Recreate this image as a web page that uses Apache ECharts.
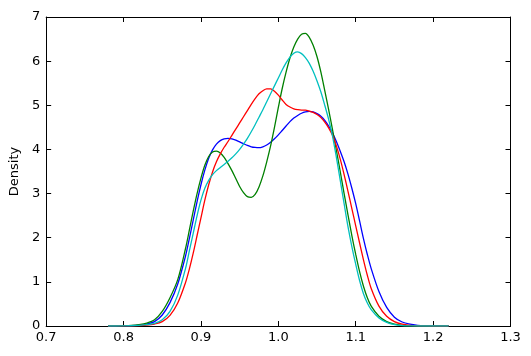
<!DOCTYPE html>
<html>
<head>
<meta charset="utf-8">
<script src="https://cdn.jsdelivr.net/npm/echarts@6/dist/echarts.min.js"></script>
<style>
html,body{margin:0;padding:0;background:#fff;}
#chart{width:531px;height:356px;}
</style>
</head>
<body>
<div id="chart"></div>
<script>
// x positions (evaluation grid of the density curves)
var xs = [0.78,0.79,0.80,0.81,0.82,0.83,0.84,0.85,0.86,0.87,
  0.88,0.885,0.89,0.895,0.90,0.905,0.91,0.915,0.92,0.925,0.93,0.935,0.94,0.945,0.95,0.955,0.96,0.965,0.97,0.975,
  0.98,0.985,0.99,0.995,1.00,1.005,1.01,1.015,1.02,1.025,1.03,1.035,1.04,1.045,1.05,1.055,1.06,1.065,1.07,1.075,
  1.08,1.085,1.09,1.095,1.10,1.105,1.11,1.115,1.12,
  1.13,1.14,1.15,1.16,1.17,1.18,1.19,1.20,1.21,1.22];

var blueDensity = [0,0,0.002,0.008,0.02,0.045,0.1,0.25,0.53,0.95,
  1.58,1.98,2.4,2.82,3.2,3.53,3.8,3.99,4.12,4.2,4.24,4.25,4.24,4.21,4.17,4.13,4.09,4.06,4.045,4.04,
  4.06,4.1,4.16,4.24,4.33,4.43,4.53,4.63,4.71,4.77,4.82,4.85,4.86,4.85,4.81,4.75,4.66,4.53,4.37,4.18,
  3.96,3.72,3.44,3.12,2.77,2.38,1.98,1.62,1.3,
  0.78,0.42,0.2,0.09,0.04,0.015,0.005,0.002,0,0];
var greenDensity = [0.002,0.004,0.006,0.012,0.03,0.065,0.14,0.33,0.64,1.05,
  1.75,2.17,2.6,3.0,3.35,3.64,3.84,3.94,3.96,3.92,3.82,3.68,3.52,3.34,3.16,3.02,2.93,2.915,2.98,3.15,
  3.4,3.72,4.08,4.5,4.95,5.38,5.75,6.07,6.32,6.5,6.61,6.63,6.54,6.36,6.1,5.75,5.33,4.9,4.45,3.98,
  3.5,3.0,2.52,2.05,1.62,1.23,0.9,0.64,0.45,
  0.22,0.1,0.04,0.015,0.005,0.002,0,0,0,0];
var redDensity = [0,0.001,0.002,0.005,0.01,0.02,0.045,0.1,0.24,0.52,
  0.98,1.29,1.65,2.05,2.45,2.85,3.2,3.49,3.72,3.9,4.05,4.18,4.32,4.46,4.6,4.74,4.88,5.02,5.15,5.26,
  5.33,5.37,5.37,5.32,5.23,5.12,5.02,4.96,4.92,4.9,4.89,4.89,4.87,4.84,4.79,4.72,4.62,4.49,4.32,4.08,
  3.78,3.43,3.05,2.66,2.27,1.88,1.5,1.15,0.85,
  0.45,0.22,0.1,0.04,0.015,0.005,0.002,0,0,0];
var cyanDensity = [0,0,0.002,0.006,0.015,0.03,0.06,0.14,0.33,0.7,
  1.3,1.7,2.1,2.5,2.85,3.12,3.3,3.43,3.52,3.59,3.66,3.73,3.81,3.9,4.0,4.12,4.25,4.4,4.56,4.73,
  4.9,5.08,5.26,5.44,5.62,5.8,5.96,6.09,6.18,6.21,6.17,6.08,5.95,5.77,5.55,5.3,5.0,4.68,4.3,3.82,
  3.3,2.77,2.25,1.8,1.4,1.03,0.73,0.52,0.37,
  0.18,0.08,0.03,0.01,0.003,0,0,0,0,0];

var xTicks = [0.7,0.8,0.9,1.0,1.1,1.2,1.3];
var yTicks = [0,1,2,3,4,5,6,7];
var yLabel = 'Density';

function pairs(vals){ return xs.map(function(x,i){ return [x, vals[i]]; }); }

var font = 'DejaVu Sans';
var fs = 13;
var axisCommon = {
  axisLine:{show:true, onZero:false, lineStyle:{color:'#000', width:1}},
  axisTick:{show:true, inside:true, length:5, lineStyle:{color:'#000', width:1}},
  splitLine:{show:false}
};
function mk(base, extra){ var o={}; for(var k in base)o[k]=base[k]; for(var k2 in extra)o[k2]=extra[k2]; return o; }

var chart = echarts.init(document.getElementById('chart'), null, {renderer:'canvas'});
chart.setOption({
  animation:false,
  backgroundColor:'#fff',
  grid:{left:44.5, right:20.5, top:17, bottom:30, containLabel:false},
  xAxis:[
    mk(axisCommon,{type:'value', position:'bottom', min:xTicks[0], max:xTicks[xTicks.length-1], interval:0.1,
      axisLabel:{show:true, color:'#000', fontFamily:font, fontSize:fs, margin:5,
        formatter:function(v){ return v.toFixed(1); }}}),
    mk(axisCommon,{type:'value', position:'top', min:xTicks[0], max:xTicks[xTicks.length-1], interval:0.1,
      axisLabel:{show:false}})
  ],
  yAxis:[
    mk(axisCommon,{type:'value', position:'left', min:yTicks[0], max:yTicks[yTicks.length-1], interval:1,
      name:yLabel, nameLocation:'middle', nameGap:20, nameRotate:90,
      nameTextStyle:{color:'#000', fontFamily:font, fontSize:fs},
      axisLabel:{show:true, color:'#000', fontFamily:font, fontSize:fs, margin:6}}),
    mk(axisCommon,{type:'value', position:'right', min:yTicks[0], max:yTicks[yTicks.length-1], interval:1,
      axisLabel:{show:false}})
  ],
  series:[
    {type:'line', data:pairs(blueDensity), smooth:0.3, showSymbol:false, clip:true, lineStyle:{color:'#0000ff', width:1.3}, itemStyle:{color:'#0000ff'}},
    {type:'line', data:pairs(greenDensity), smooth:0.3, showSymbol:false, clip:true, lineStyle:{color:'#008000', width:1.3}, itemStyle:{color:'#008000'}},
    {type:'line', data:pairs(redDensity), smooth:0.3, showSymbol:false, clip:true, lineStyle:{color:'#ff0000', width:1.3}, itemStyle:{color:'#ff0000'}},
    {type:'line', data:pairs(cyanDensity), smooth:0.3, showSymbol:false, clip:true, lineStyle:{color:'#00bfbf', width:1.3}, itemStyle:{color:'#00bfbf'}}
  ]
});
</script>
</body>
</html>
